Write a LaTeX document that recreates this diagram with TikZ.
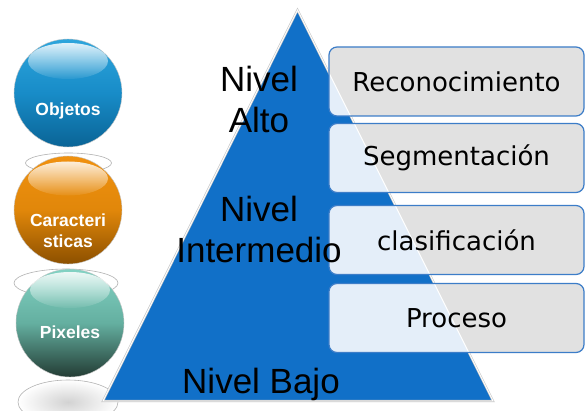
\documentclass[tikz,border=0pt]{standalone}
\usepackage{fontspec}
\setmainfont{Liberation Sans}
\newfontfamily\boxfont{DejaVu Sans}
\usetikzlibrary{fadings,shadings}

\definecolor{pyramid}{RGB}{17,112,200}
\definecolor{boxline}{RGB}{60,125,200}
\definecolor{boxgray}{RGB}{225,225,225}
\definecolor{boxblue}{RGB}{228,238,249}
\definecolor{bluetop}{RGB}{45,165,220}
\definecolor{bluemid}{RGB}{24,140,200}
\definecolor{bluebot}{RGB}{10,100,150}
\definecolor{orangetop}{RGB}{240,145,15}
\definecolor{orangemid}{RGB}{225,135,10}
\definecolor{orangebot}{RGB}{140,80,0}
\definecolor{tealtop}{RGB}{130,210,195}
\definecolor{tealmid}{RGB}{100,175,160}
\definecolor{tealbot}{RGB}{35,60,52}

\tikzfading[name=glossfade, top color=transparent!15, bottom color=transparent!95]

\tikzset{
  stage/.style={rounded corners=8pt, draw=boxline, line width=1.2pt, fill=boxgray,
    minimum width=255pt, minimum height=69pt, inner sep=0pt,
    font=\boxfont\fontsize{26}{30}\selectfont,
    path picture={\fill[boxblue] (apex)--(bl)--(br)--cycle;
                  \draw[white, line width=1pt] (apex)--(br);}},
  level/.style={font=\fontsize{35}{41}\selectfont, align=center, inner sep=0pt},
  sphere/.style={circle, minimum size=108pt, inner sep=0pt, draw=gray!45, line width=0.4pt},
  spheretext/.style={font=\bfseries\fontsize{17.5}{21}\selectfont, text=white, align=center, inner sep=0pt},
  gloss/.style={white, path fading=glossfade},
  base/.style={draw=gray!60, line width=0.6pt, fill=white}
}

\begin{document}
\begin{tikzpicture}[x=1pt,y=1pt]
\useasboundingbox[fill=white] (0,0) rectangle (585,410);

% bases under the spheres
\draw[base] (68.5,247) ellipse (43 and 10);
\draw[base] (66,127) ellipse (52 and 14);
\shade[inner color=gray!35, outer color=white] (68,8) ellipse (50 and 22);
\draw[draw=gray!60, line width=0.6pt] (68,8) ellipse (50 and 22);

% pyramid
\coordinate (apex) at (297.5,400);
\coordinate (bl) at (103,9);
\coordinate (br) at (493,9);
\fill[pyramid] (apex)--(bl)--(br)--cycle;
\draw[gray!45, line width=2.2pt, line join=miter] (apex)--(bl)--(br)--cycle;
\draw[white, line width=0.9pt, line join=miter] (apex)--(bl)--(br)--cycle;

% spheres
\node[sphere, top color=bluetop, bottom color=bluebot, middle color=bluemid] (s1) at (68,317) {};
\fill[gloss] ([yshift=32pt]s1.center) ellipse (40 and 18);
\node[spheretext] (t1) at ([yshift=-17.5pt]s1.center) {Objetos};

\node[sphere, top color=orangetop, bottom color=orangebot, middle color=orangemid] (s2) at (68,200) {};
\fill[gloss] ([yshift=31.5pt]s2.center) ellipse (40 and 17);
\node[spheretext] (t2) at ([yshift=-21pt]s2.center) {Caracteri\\sticas};

\node[sphere, top color=tealtop, bottom color=tealbot, middle color=tealmid] (s3) at (70,87) {};
\fill[gloss] ([yshift=33pt]s3.center) ellipse (40 and 18);
\node[spheretext] (t3) at ([yshift=-9.6pt]s3.center) {Pixeles};

% stages
\node[stage] (b1) at (456.5,328.5) {Reconocimiento};
\node[stage] (b2) at (456.5,252) {Segmentación};
\node[stage] (b3) at (456.5,170) {clasificación};
\node[stage] (b4) at (456.5,92) {Proceso};

% level labels, set over the stages
\node[level] (hi) at (259,310.5) {Nivel\\Alto};
\node[level] (mid) at (259,180.5) {Nivel\\Intermedio};
\node[level, anchor=base] (lo) at (261,17) {Nivel Bajo};
\end{tikzpicture}
\end{document}
